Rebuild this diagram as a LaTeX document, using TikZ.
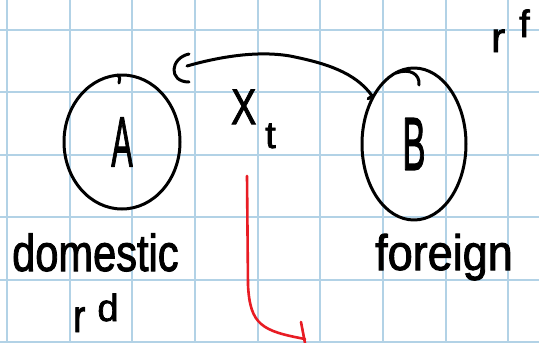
\documentclass[tikz,border=0pt]{standalone}
\usepackage{fontspec}
\setmainfont{Liberation Sans}[FakeBold=2]
\usetikzlibrary{shapes.geometric}
\definecolor{gridblue}{RGB}{178,210,230}
\definecolor{penred}{RGB}{232,28,36}
\begin{document}
\begin{tikzpicture}[x=1pt,y=-1pt,
  pen/.style={line width=3pt,line cap=round,line join=round},
  ell/.style={pen,draw,ellipse,inner sep=0pt},
  hand/.style={inner sep=0pt,anchor=base west},
  gridline/.style={gridblue,line width=2pt}]
\useasboundingbox (0,0) rectangle (539,343);
\fill[white] (0,0) rectangle (539,343);
\foreach \i in {0,...,8} \draw[gridline] ({7+62.65*\i},0) -- ({7+62.65*\i},343);
\foreach \j in {0,...,5} \draw[gridline] (0,{29.5+62.5*\j}) -- (539,{29.5+62.5*\j});
% circles
\node[ell,minimum width=116pt,minimum height=134pt] (A) at (122,142) {\fontsize{71}{71}\selectfont\scalebox{0.45}[1]{A}};
\node[ell,minimum width=104pt,minimum height=152pt] (B) at (414,144) {\fontsize{75}{75}\selectfont\scalebox{0.46}[1]{B}};
\draw[pen] (117,75) .. controls (120,77) .. (119,83);
\draw[pen] (396,73) .. controls (410,68) and (420,74) .. (419,85);
% labels
\node[hand] (dom) at (12,271) {\fontsize{52}{52}\selectfont\scalebox{0.8}[1]{domestic}};
\node[hand] (for) at (375,270) {\fontsize{50}{50}\selectfont\scalebox{0.9}[1]{foreign}};
\node[hand] (xt) at (231,124) {\fontsize{50}{50}\selectfont\scalebox{0.75}[1]{X}\hspace{9pt}\raisebox{-24pt}{\fontsize{38}{38}\selectfont t}};
\node[hand] (rd) at (73,332) {\fontsize{46}{46}\selectfont\scalebox{0.8}[1]{r}\hspace{12pt}\raisebox{11pt}{\fontsize{38}{38}\selectfont d}};
\node[hand] (rf) at (491,52) {\fontsize{42}{42}\selectfont r\hspace{14pt}\raisebox{15pt}{\fontsize{38}{38}\selectfont f}};
% connector A -> B
\coordinate (s) at (187,66);
\draw[pen] (189,54) .. controls (170,58) and (168,82) .. (189,82);
\draw[pen] (s) .. controls (215,58) and (255,50) .. (290,56) .. controls (325,63) and (355,72) .. (B.131) -- ++(-4,3);
% red arrow
\coordinate (r0) at (247,176);
\coordinate (r1) at (305,339);
\draw[pen,penred,line width=2.6pt] (r0) -- (248,285) .. controls (250,325) and (262,331) .. (r1);
\draw[pen,penred,line width=2.6pt] (301,322) -- (305,343);
\end{tikzpicture}
\end{document}
